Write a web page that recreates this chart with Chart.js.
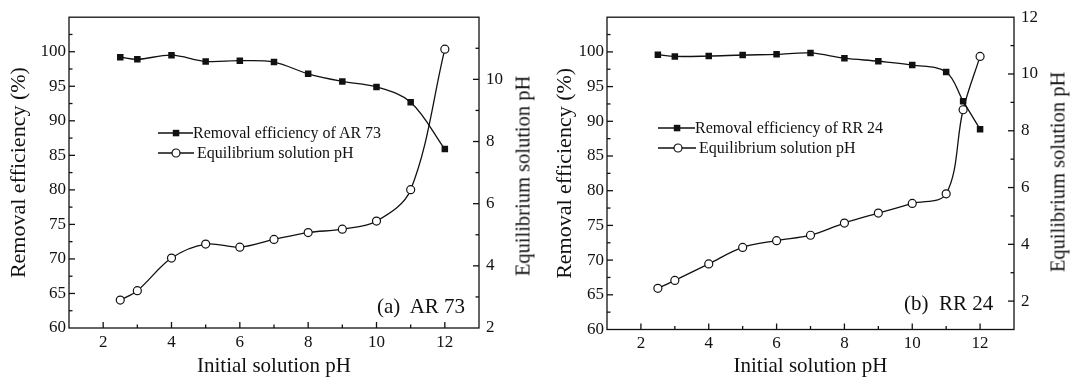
<!DOCTYPE html>
<html>
<head>
<meta charset="utf-8">
<title>Removal efficiency vs initial solution pH</title>
<script src="https://cdn.jsdelivr.net/npm/chart.js@4.4.1/dist/chart.umd.min.js"></script>
<style>
  body { margin: 0; background: #fff; }
  #wrap { position: relative; width: 1072px; height: 380px; font-family: "Liberation Serif", "Times New Roman", serif; color: #111; }
  .panel { position: absolute; top: 0; }
  .lrow { position: absolute; height: 20px; display: flex; align-items: center; font-size: 16px; white-space: nowrap; }
  .tag { position: absolute; font-size: 21px; white-space: pre; line-height: 24px; }
  .ytitle { position: absolute; font-size: 20.5px; white-space: nowrap; transform: translate(-50%, -50%) rotate(-90deg); }
</style>
</head>
<body>
<div id="wrap">
  <canvas id="chartA" class="panel" style="left:0" width="536" height="380"></canvas>
  <canvas id="chartB" class="panel" style="left:536px" width="536" height="380"></canvas>

  <!-- legend, panel (a) -->
  <div class="lrow" style="left:158px;top:123px">
    <svg width="35" height="12"><line x1="0" y1="6" x2="35" y2="6" stroke="#111" stroke-width="1.3"/><rect x="14.8" y="2.8" width="6.5" height="6.5" fill="#111"/></svg>
    <span>Removal efficiency of AR 73</span>
  </div>
  <div class="lrow" style="left:158px;top:143px">
    <svg width="36" height="12"><line x1="0" y1="6" x2="36" y2="6" stroke="#111" stroke-width="1.3"/><circle cx="18" cy="6" r="4" fill="#fff" stroke="#111" stroke-width="1.2"/></svg>
    <span style="margin-left:3px">Equilibrium solution pH</span>
  </div>
  <div class="tag" style="left:377px;top:294px">(a)  AR 73</div>
  <div class="ytitle" style="left:523px;top:176px">Equilibrium solution pH</div>

  <!-- legend, panel (b) -->
  <div class="lrow" style="left:658px;top:118px">
    <svg width="37" height="12"><line x1="0" y1="6" x2="37" y2="6" stroke="#111" stroke-width="1.3"/><rect x="15.8" y="2.8" width="6.5" height="6.5" fill="#111"/></svg>
    <span>Removal efficiency of RR 24</span>
  </div>
  <div class="lrow" style="left:658px;top:138px">
    <svg width="38" height="12"><line x1="0" y1="6" x2="38" y2="6" stroke="#111" stroke-width="1.3"/><circle cx="20" cy="6" r="4" fill="#fff" stroke="#111" stroke-width="1.2"/></svg>
    <span style="margin-left:3px">Equilibrium solution pH</span>
  </div>
  <div class="tag" style="left:904px;top:291px">(b)  RR 24</div>
  <div class="ytitle" style="left:1058px;top:172px">Equilibrium solution pH</div>
</div>

<script>
// panel (a) AR 73
const initPhA = [2.5, 3, 4, 5, 6, 7, 8, 9, 10, 11, 12];
const removalAR73 = [99.2, 98.9, 99.5, 98.6, 98.7, 98.5, 96.8, 95.7, 94.9, 92.7, 85.9];
const eqPhAR73 = [2.9, 3.2, 4.25, 4.7, 4.6, 4.85, 5.07, 5.18, 5.44, 6.45, 10.97];

// panel (b) RR 24
const initPhB = [2.5, 3, 4, 5, 6, 7, 8, 9, 10, 11, 11.5, 12];
const removalRR24 = [99.6, 99.35, 99.4, 99.55, 99.65, 99.85, 99.1, 98.65, 98.1, 97.1, 92.9, 88.85];
const eqPhRR24 = [2.45, 2.73, 3.31, 3.89, 4.13, 4.32, 4.75, 5.1, 5.44, 5.78, 8.74, 10.62];

// tick labels
const xTicks = [2, 4, 6, 8, 10, 12];
const effTicks = [60, 65, 70, 75, 80, 85, 90, 95, 100];
const phTicksA = [2, 4, 6, 8, 10];
const phTicksB = [2, 4, 6, 8, 10, 12];

const ink = '#111';
const serif = '"Liberation Serif", "Times New Roman", serif';
const tickFont = { family: serif, size: 17 };

// ticks pointing into the plot, plus the closed frame
const inwardTicks = {
  id: 'inwardTicks',
  afterDraw(chart, args, opts) {
    const { ctx, chartArea: a } = chart;
    ctx.save();
    ctx.strokeStyle = ink;
    ctx.lineWidth = 1.3;
    ctx.strokeRect(a.left, a.top, a.right - a.left, a.bottom - a.top);
    for (const id of ['x', 'y', 'y2']) {
      const s = chart.scales[id];
      const [major, minor] = opts[id];
      for (let n = Math.ceil(s.min / minor); n * minor <= s.max + 1e-9; n++) {
        const v = n * minor;
        if (Math.abs(v - s.min) < 1e-9 || Math.abs(v - s.max) < 1e-9) continue;
        const isMajor = Math.abs(v / major - Math.round(v / major)) < 1e-6;
        const len = isMajor ? 6 : 3.5;
        const p = s.getPixelForValue(v);
        ctx.beginPath();
        if (id === 'x') { ctx.moveTo(p, a.bottom); ctx.lineTo(p, a.bottom - len); }
        else if (id === 'y') { ctx.moveTo(a.left, p); ctx.lineTo(a.left + len, p); }
        else { ctx.moveTo(a.right, p); ctx.lineTo(a.right - len, p); }
        ctx.stroke();
      }
    }
    ctx.restore();
  }
};

function pts(xs, ys) {
  return xs.map((x, i) => ({ x: x, y: ys[i] }));
}

function makeChart(id, xs, eff, ph, phMax, phMin, phTicks, dims) {
  return new Chart(document.getElementById(id), {
    type: 'line',
    data: {
      datasets: [
        {
          data: pts(xs, eff), yAxisID: 'y',
          borderColor: ink, borderWidth: 1.3, tension: 0.35,
          pointStyle: 'rect', pointRadius: 4.6, pointBackgroundColor: ink, pointBorderWidth: 0
        },
        {
          data: pts(xs, ph), yAxisID: 'y2',
          borderColor: ink, borderWidth: 1.3, tension: 0.35,
          pointStyle: 'circle', pointRadius: 4, pointBackgroundColor: '#fff',
          pointBorderColor: ink, pointBorderWidth: 1.2
        }
      ]
    },
    options: {
      responsive: false,
      animation: false,
      devicePixelRatio: 1,
      layout: { padding: { top: dims.top, left: 0, right: 0, bottom: 0 } },
      plugins: {
        legend: { display: false },
        tooltip: { enabled: false },
        inwardTicks: { x: [2, 1], y: [5, 2.5], y2: [2, 1] }
      },
      scales: {
        x: {
          type: 'linear', min: 1, max: 13,
          afterBuildTicks: s => { s.ticks = xTicks.map(v => ({ value: v })); },
          afterFit: s => { s.height = dims.xh; },
          grid: { display: false, drawTicks: false },
          border: { display: false },
          ticks: { font: tickFont, color: ink, padding: 4, maxRotation: 0, autoSkip: false },
          title: { display: true, text: 'Initial solution pH', font: { family: serif, size: 21 }, color: ink, padding: { top: 0, bottom: 0.5 } }
        },
        y: {
          position: 'left', min: 60, max: 105,
          afterBuildTicks: s => { s.ticks = effTicks.map(v => ({ value: v })); },
          afterFit: s => { s.width = dims.yw; },
          grid: { display: false, drawTicks: false },
          border: { display: false },
          ticks: { font: tickFont, color: ink, padding: 3, autoSkip: false },
          title: { display: true, text: 'Removal efficiency (%)', font: { family: serif, size: 22 }, color: ink, padding: { top: dims.ytp, bottom: 0 } }
        },
        y2: {
          position: 'right', min: phMin, max: phMax,
          afterBuildTicks: s => { s.ticks = phTicks.map(v => ({ value: v })); },
          afterFit: s => { s.width = dims.y2w; },
          grid: { display: false, drawTicks: false },
          border: { display: false },
          ticks: { font: tickFont, color: ink, padding: 7, autoSkip: false }
        }
      }
    },
    plugins: [inwardTicks]
  });
}

makeChart('chartA', initPhA, removalAR73, eqPhAR73, 12, 2, phTicksA,
  { top: 13, xh: 52, yw: 69, y2w: 57, ytp: 6 });
makeChart('chartB', initPhB, removalRR24, eqPhRR24, 12, 1, phTicksB,
  { top: 14, xh: 50.5, yw: 71, y2w: 58, ytp: 16 });
</script>
</body>
</html>
